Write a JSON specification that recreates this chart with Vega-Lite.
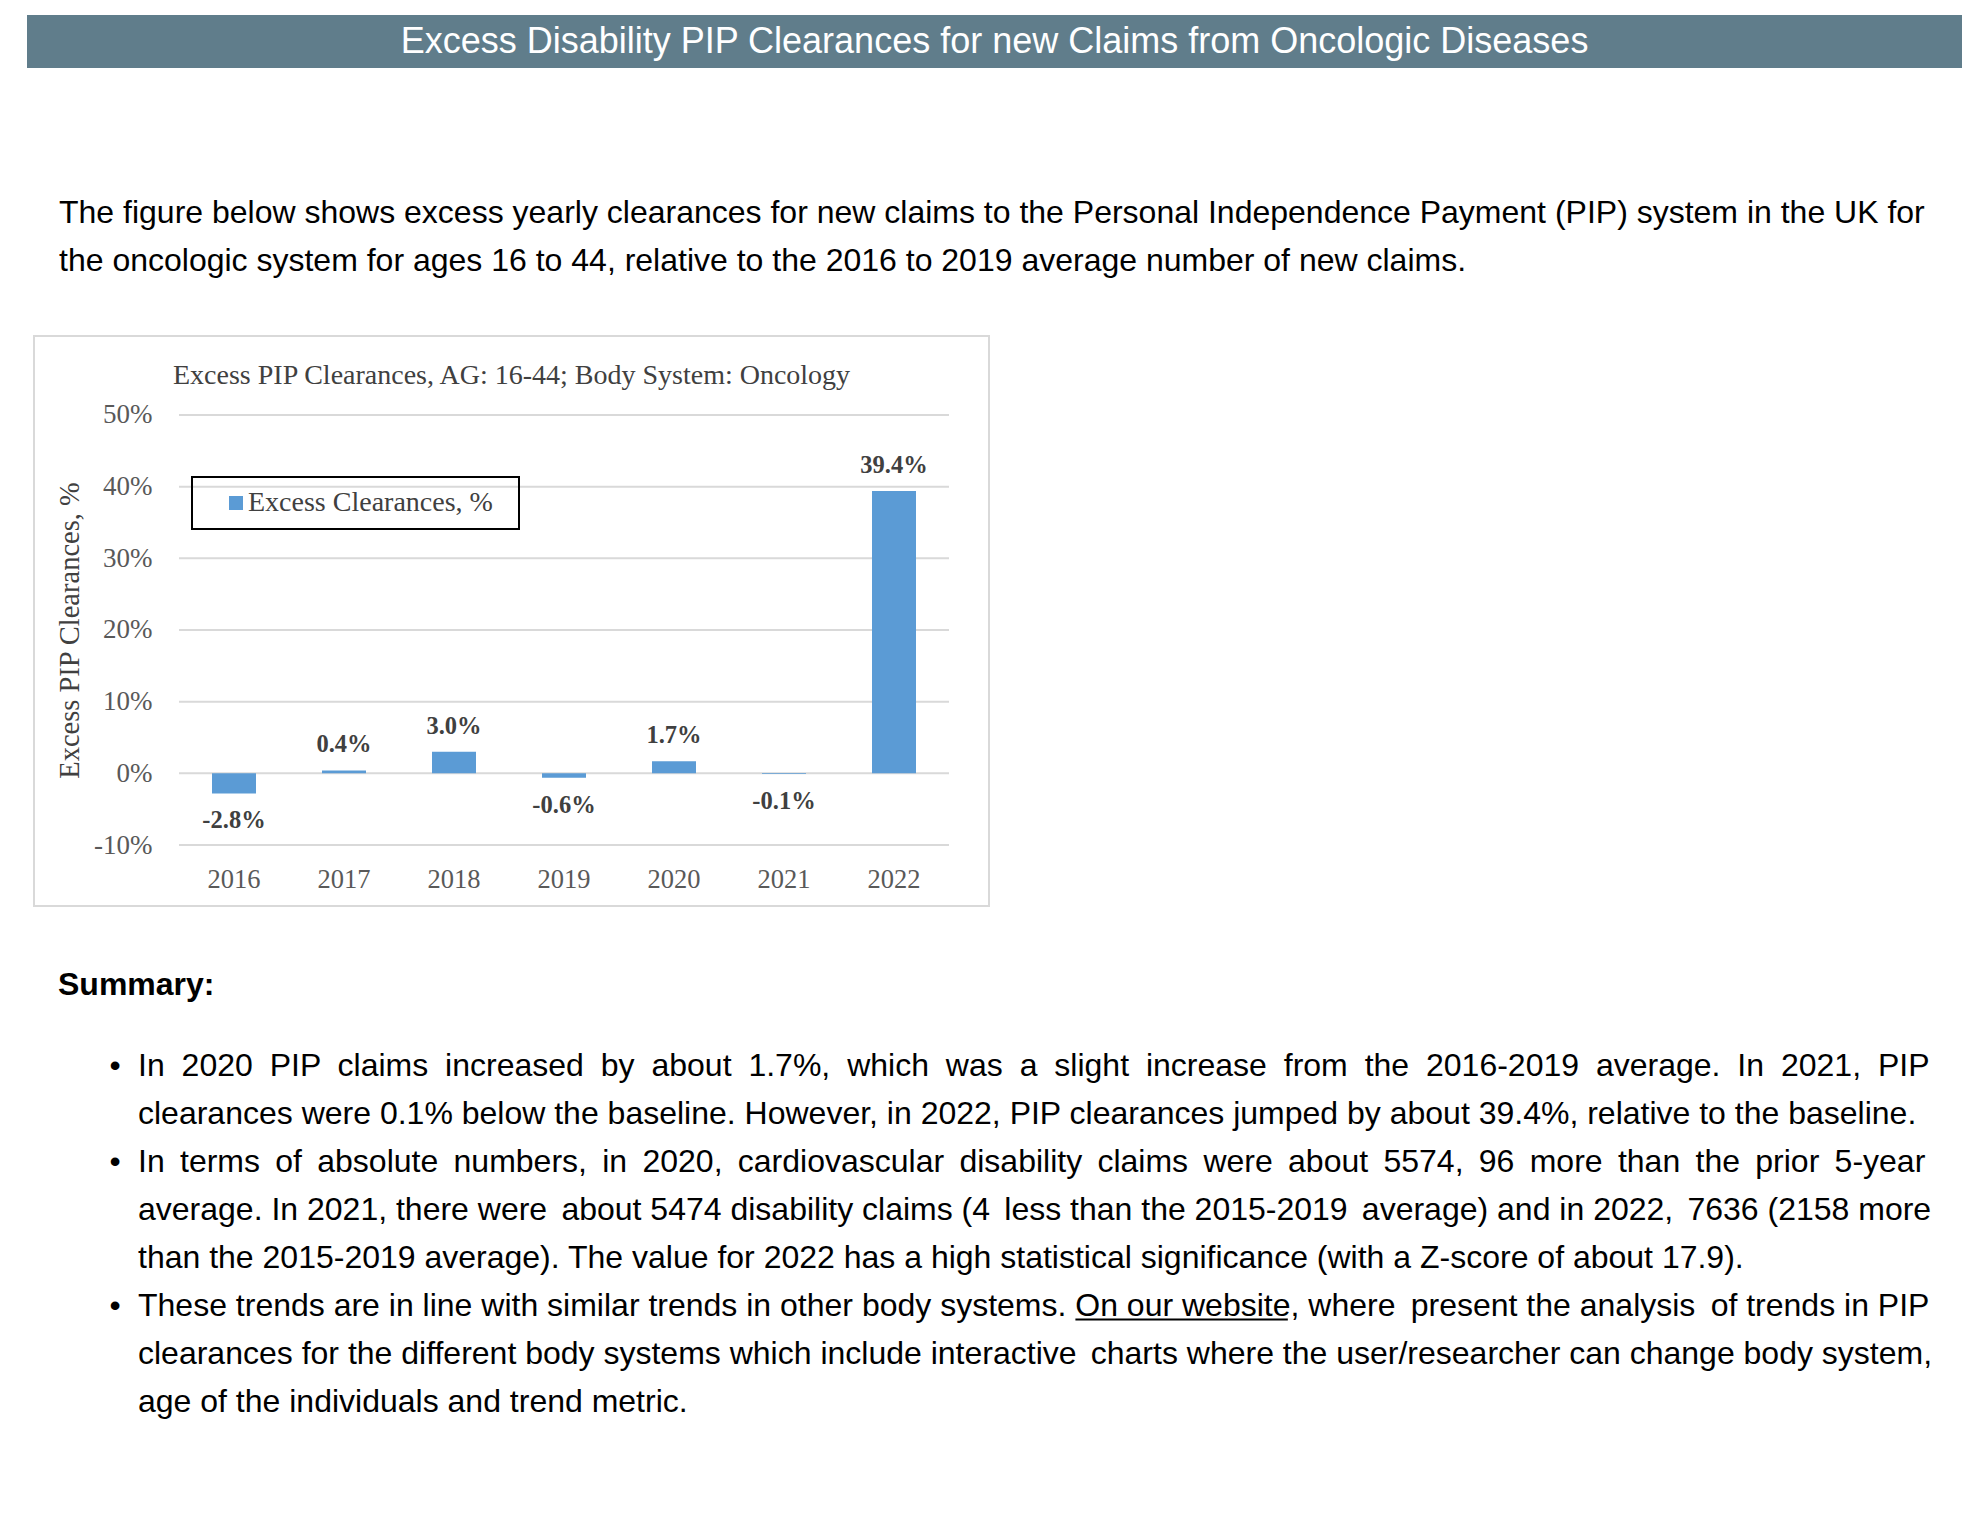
{
  "$schema": "https://vega.github.io/schema/vega-lite/v6.json",
  "background": "white",
  "padding": {"left": 27, "top": 15, "right": 0, "bottom": 0},
  "spacing": 0,
  "config": {
    "view": {"stroke": null},
    "locale": {"number": {"decimal": ".", "thousands": ",", "grouping": [3], "currency": ["$", ""], "minus": "-"}},
    "text": {"font": "Liberation Sans"},
    "axis": {"grid": false, "domain": false, "ticks": false, "tickSize": 0},
    "legend": {"strokeWidth": 2}
  },
  "datasets": {
    "bars": [
      {"year": "2016", "value": -0.028},
      {"year": "2017", "value": 0.004},
      {"year": "2018", "value": 0.030},
      {"year": "2019", "value": -0.006},
      {"year": "2020", "value": 0.017},
      {"year": "2021", "value": -0.001},
      {"year": "2022", "value": 0.394}
    ],
    "grid": [{"g": -0.1}, {"g": 0}, {"g": 0.1}, {"g": 0.2}, {"g": 0.3}, {"g": 0.4}, {"g": 0.5}],
    "intro": [
      {"line": 0, "text": "The figure below shows excess yearly clearances for new claims to the Personal Independence Payment (PIP) system in the UK for"},
      {"line": 1, "text": "the oncologic system for ages 16 to 44, relative to the 2016 to 2019 average number of new claims."}
    ],
    "bullets": [{"line": 0}, {"line": 2}, {"line": 5}],
    "summary": [
      {"line": 0, "text": "In \u20052020 \u2005PIP \u2005claims \u2005increased \u2005by \u2005about \u20051.7%, \u2005which \u2005was \u2005a \u2005slight \u2005increase \u2005from \u2005the \u20052016-2019 \u2005average. \u2005In \u20052021, \u2005PIP"},
      {"line": 1, "text": "clearances were 0.1% below the baseline. However, in 2022, PIP clearances jumped by about 39.4%, relative to the baseline."},
      {"line": 2, "text": "In \u2009terms \u2009of \u2009absolute \u2009numbers, \u2009in \u20092020, \u2009cardiovascular \u2009disability \u2009claims \u2009were \u2009about \u20095574, \u200996 \u2009more \u2009than \u2009the \u2009prior \u20095-year"},
      {"line": 3, "text": "average. In 2021, there were \u2006about 5474 disability claims (4 \u2006less than the 2015-2019 \u2006average) and in 2022, \u20067636 (2158 more"},
      {"line": 4, "text": "than the 2015-2019 average). The value for 2022 has a high statistical significance (with a Z-score of about 17.9)."},
      {"line": 5, "text": "These trends are in line with similar trends in other body systems. On our website, where \u2009present the analysis \u2009of trends in PIP"},
      {"line": 6, "text": "clearances for the different body systems which include interactive \u2006charts where the user/researcher can change body system,"},
      {"line": 7, "text": "age of the individuals and trend metric."}
    ]
  },
  "vconcat": [
    {
      "width": 1935,
      "height": 53,
      "view": {"fill": "#607d8b", "stroke": null},
      "data": {"values": [{"t": "Excess Disability PIP Clearances for new Claims from Oncologic Diseases"}]},
      "mark": {"type": "text", "font": "Liberation Sans", "fontSize": 36, "color": "#ffffff", "align": "center", "baseline": "middle"},
      "encoding": {"text": {"field": "t"}}
    },
    {
      "width": 1935,
      "height": 267,
      "data": {"name": "intro"},
      "mark": {"type": "text", "font": "Liberation Sans", "fontSize": 32, "color": "#000000", "align": "left", "baseline": "alphabetic"},
      "encoding": {
        "x": {"datum": 0, "type": "quantitative", "scale": {"domain": [0, 1], "range": [32, 1902], "nice": false, "zero": false}, "axis": null},
        "y": {"field": "line", "type": "quantitative", "scale": {"domain": [0, 1], "range": [154.5, 202.5], "nice": false, "zero": false}, "axis": null},
        "text": {"field": "text"}
      }
    },
    {
      "spacing": 5,
      "hconcat": [
        {
          "width": 1,
          "height": 570,
          "data": {"values": [{"t": ""}]},
          "mark": {"type": "text"},
          "encoding": {"text": {"field": "t"}}
        },
        {
          "width": 955,
          "height": 570,
          "view": {"stroke": "#d9d9d9", "strokeWidth": 2, "fill": "#ffffff"},
          "title": {"text": "Excess PIP Clearances, AG: 16-44; Body System: Oncology", "anchor": "start", "frame": "group", "offset": -76, "dx": 139, "baseline": "alphabetic", "font": "Liberation Serif", "fontSize": 28, "fontWeight": "normal", "color": "#404040"},
          "resolve": {"scale": {"x": "independent"}, "axis": {"x": "independent"}},
          "layer": [
            {
              "data": {"name": "grid"},
              "mark": {"type": "rule", "color": "#d9d9d9", "strokeWidth": 2},
              "encoding": {
                "y": {"field": "g", "type": "quantitative", "scale": {"domain": [-0.1851, 0.6102], "nice": false, "zero": false}},
                "x": {"datum": 0, "type": "quantitative", "scale": {"domain": [0, 1], "range": [145, 915], "nice": false, "zero": false}, "axis": null},
                "x2": {"datum": 1}
              }
            },
            {
              "data": {"name": "bars"},
              "encoding": {
                "x": {"field": "year", "type": "ordinal", "scale": {"type": "band", "range": [145, 915], "paddingInner": 0.6, "paddingOuter": 0.3}},
                "y": {"field": "value", "type": "quantitative", "scale": {"domain": [-0.1851, 0.6102], "nice": false, "zero": false}}
              },
              "layer": [
                {
                  "mark": {"type": "bar"},
                  "encoding": {
                    "x": {
                      "field": "year", "type": "ordinal",
                      "scale": {"type": "band", "range": [145, 915], "paddingInner": 0.6, "paddingOuter": 0.3},
                      "axis": {"orient": "bottom", "offset": -61, "title": null, "labelAngle": 0, "labelFont": "Liberation Serif", "labelFontSize": 26.5, "labelColor": "#595959", "labelPadding": 34.5, "labelBaseline": "middle", "tickSize": 0, "ticks": false, "domain": false}
                    },
                    "y": {
                      "field": "value", "type": "quantitative",
                      "scale": {"domain": [-0.1851, 0.6102], "nice": false, "zero": false},
                      "axis": {"orient": "left", "offset": -145, "values": [-0.1, 0, 0.1, 0.2, 0.3, 0.4, 0.5], "format": ".0%", "labelFont": "Liberation Serif", "labelFontSize": 27, "labelColor": "#595959", "labelPadding": 27, "labelFlush": false, "labelOverlap": false, "tickSize": 0, "ticks": false, "domain": false, "grid": false,
                        "title": "Excess PIP Clearances, %", "titleFont": "Liberation Serif", "titleFontSize": 28.5, "titleFontWeight": "normal", "titleColor": "#404040", "titleX": -110, "titleY": 294, "titleAngle": 270, "titleAlign": "center", "titleBaseline": "middle"}
                    },
                    "y2": {"datum": 0},
                    "color": {
                      "datum": "Excess Clearances, %", "type": "nominal",
                      "scale": {"range": ["#5b9bd5"]},
                      "legend": {"orient": "none", "legendX": 165, "legendY": 462, "title": null, "padding": 12, "strokeColor": "#000000", "symbolType": "square", "symbolSize": 196, "symbolStrokeWidth": 0, "symbolOffset": 18, "labelOffset": -2, "labelFont": "Liberation Serif", "labelFontSize": 28, "labelColor": "#404040", "labelLimit": 500, "labelExpr": "datum.label + '\u2002\u200b'"}
                    }
                  }
                },
                {
                  "transform": [{"filter": "datum.value >= 0"}],
                  "mark": {"type": "text", "font": "Liberation Serif", "fontSize": 24.5, "fontWeight": "bold", "color": "#404040", "baseline": "middle", "dy": -25},
                  "encoding": {
                    "text": {"field": "value", "type": "quantitative", "format": ".1%"}
                  }
                },
                {
                  "transform": [{"filter": "datum.value < 0"}],
                  "mark": {"type": "text", "font": "Liberation Serif", "fontSize": 24.5, "fontWeight": "bold", "color": "#404040", "baseline": "middle", "dy": 28},
                  "encoding": {
                    "text": {"field": "value", "type": "quantitative", "format": ".1%"}
                  }
                }
              ]
            }
          ]
        }
      ]
    },
    {
      "width": 1935,
      "height": 627,
      "layer": [
        {
          "data": {"values": [{"t": "Summary:"}]},
          "mark": {"type": "text", "font": "Liberation Sans", "fontSize": 32, "fontWeight": "bold", "color": "#000000", "align": "left", "baseline": "alphabetic", "dx": -80},
          "encoding": {
            "x": {"datum": 0, "type": "quantitative", "scale": {"domain": [0, 1], "range": [111, 1902], "nice": false, "zero": false}, "axis": null},
            "y": {"datum": -1.6667, "type": "quantitative", "scale": {"domain": [0, 7], "range": [168.5, 504.5], "nice": false, "zero": false}, "axis": null},
            "text": {"field": "t"}
          }
        },
        {
          "data": {"name": "bullets"},
          "mark": {"type": "text", "font": "Liberation Sans", "fontSize": 32, "color": "#000000", "align": "center", "baseline": "alphabetic", "dx": -23},
          "encoding": {
            "x": {"datum": 0, "type": "quantitative", "scale": {"domain": [0, 1], "range": [111, 1902], "nice": false, "zero": false}, "axis": null},
            "y": {"field": "line", "type": "quantitative", "scale": {"domain": [0, 7], "range": [168.5, 504.5], "nice": false, "zero": false}, "axis": null},
            "text": {"value": "\u2022"}
          }
        },
        {
          "data": {"name": "summary"},
          "mark": {"type": "text", "font": "Liberation Sans", "fontSize": 32, "color": "#000000", "align": "left", "baseline": "alphabetic"},
          "encoding": {
            "x": {"datum": 0, "type": "quantitative", "scale": {"domain": [0, 1], "range": [111, 1902], "nice": false, "zero": false}, "axis": null},
            "y": {"field": "line", "type": "quantitative", "scale": {"domain": [0, 7], "range": [168.5, 504.5], "nice": false, "zero": false}, "axis": null},
            "text": {"field": "text"}
          }
        },
        {
          "data": {"values": [{"link": "On our website"}]},
          "mark": {"type": "rule", "color": "#000000", "strokeWidth": 2},
          "encoding": {
            "x": {"datum": 0.5234, "type": "quantitative", "scale": {"domain": [0, 1], "range": [111, 1902], "nice": false, "zero": false}, "axis": null},
            "x2": {"datum": 0.642},
            "y": {"datum": 5.083, "type": "quantitative", "scale": {"domain": [0, 7], "range": [168.5, 504.5], "nice": false, "zero": false}, "axis": null}
          }
        }
      ]
    }
  ]
}
